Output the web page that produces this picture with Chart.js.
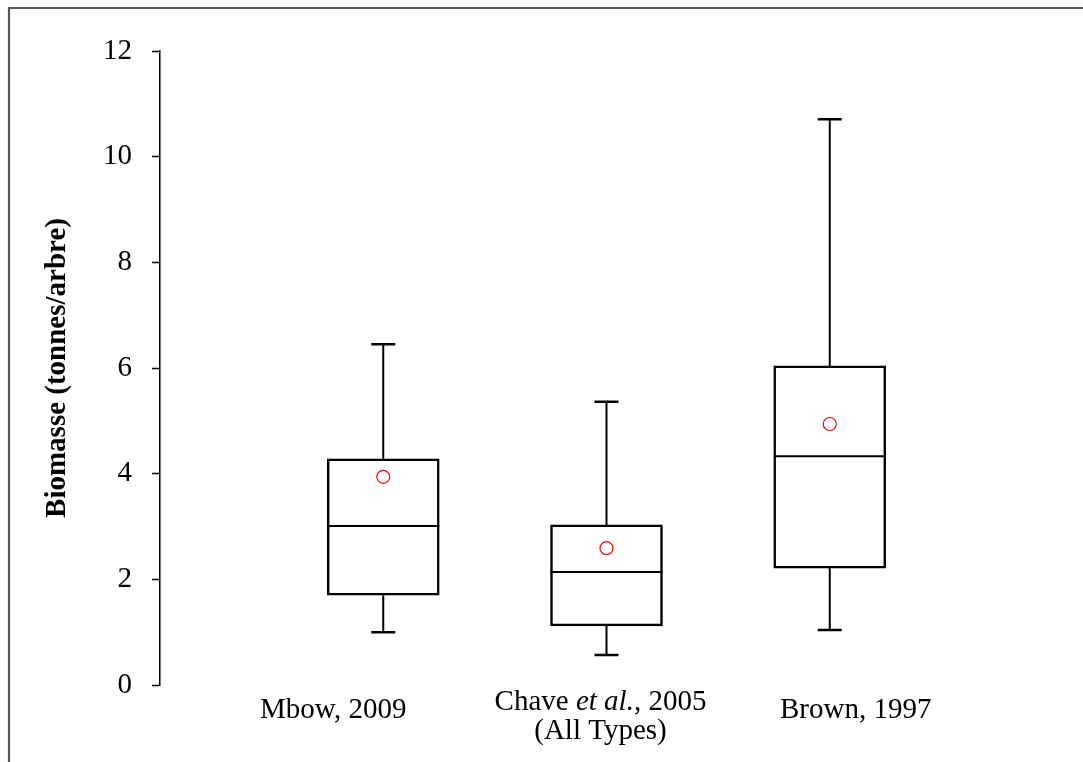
<!DOCTYPE html>
<html>
<head>
<meta charset="utf-8">
<script src="https://cdn.jsdelivr.net/npm/chart.js@4.4.1/dist/chart.umd.min.js"></script>
<style>
  html, body { margin: 0; padding: 0; background: #fff; }
  #wrap { width: 1083px; height: 762px; position: relative; }
</style>
</head>
<body>
<div id="wrap"><canvas id="c"></canvas></div>
<script>
// ---- data ----
const categories = [["Mbow, 2009"], ["Chave |et al.|, 2005", "(All Types)"], ["Brown, 1997"]];
const catPos = [1, 2, 3];
const whiskerLow = [1.00, 0.57, 1.04];
const q1 = [1.70, 1.12, 2.21];
const median = [3.01, 2.14, 4.33];
const q3 = [4.28, 3.03, 6.04];
const whiskerHigh = [6.45, 5.36, 10.71];
const mean = [3.94, 2.59, 4.94];
const yTicks = [0, 2, 4, 6, 8, 10, 12];
const yTitle = "Biomasse (tonnes/arbre)";

// ---- style constants ----
const SERIF = "'Liberation Serif', 'Times New Roman', serif";
const labelDx = [-50, -6, 26];

const boxPlugin = {
  id: 'boxparts',
  afterDatasetDraw(chart, args) {
    if (args.index !== 0) return;
    const ctx = chart.ctx, xs = chart.scales.x, ys = chart.scales.y;
    ctx.save();
    ctx.strokeStyle = '#000';
    ctx.lineCap = 'butt';
    const half = 56, cap = 12;
    catPos.forEach((p, i) => {
      const x = xs.getPixelForValue(p);
      const yMed = ys.getPixelForValue(median[i]);
      const yQ1 = ys.getPixelForValue(q1[i]);
      const yQ3 = ys.getPixelForValue(q3[i]);
      const yLo = ys.getPixelForValue(whiskerLow[i]);
      const yHi = ys.getPixelForValue(whiskerHigh[i]);
      ctx.lineWidth = 2;
      ctx.beginPath();
      ctx.moveTo(x - half, yMed); ctx.lineTo(x + half, yMed);
      ctx.moveTo(x, yQ3); ctx.lineTo(x, yHi);
      ctx.moveTo(x, yQ1); ctx.lineTo(x, yLo);
      ctx.stroke();
      ctx.lineWidth = 2.5;
      ctx.beginPath();
      ctx.moveTo(x - cap, yHi); ctx.lineTo(x + cap, yHi);
      ctx.moveTo(x - cap, yLo); ctx.lineTo(x + cap, yLo);
      ctx.stroke();
    });
    ctx.restore();
  },
  afterDraw(chart) {
    const ctx = chart.ctx, xs = chart.scales.x, ys = chart.scales.y;
    const bottom = ys.getPixelForValue(0);
    ctx.save();
    ctx.fillStyle = '#000';
    ctx.textBaseline = 'alphabetic';
    categories.forEach((lines, i) => {
      const cx = xs.getPixelForValue(catPos[i]) + labelDx[i];
      const baseY = lines.length > 1 ? [bottom + 25, bottom + 54] : [bottom + 33];
      lines.forEach((line, j) => {
        const parts = line.split('|');
        const fonts = parts.map((_, k) => (k % 2 === 1 ? 'italic ' : '') + '29px ' + SERIF);
        let total = 0;
        const widths = parts.map((t, k) => { ctx.font = fonts[k]; const w = ctx.measureText(t).width; total += w; return w; });
        let x = cx - total / 2;
        ctx.textAlign = 'left';
        parts.forEach((t, k) => { ctx.font = fonts[k]; ctx.fillText(t, x, baseY[j]); x += widths[k]; });
      });
    });
    // frame
    ctx.strokeStyle = '#575757';
    ctx.lineWidth = 2.2;
    ctx.beginPath();
    ctx.moveTo(9, 762); ctx.lineTo(9, 8); ctx.lineTo(1083, 8);
    ctx.stroke();
    ctx.restore();
  }
};

new Chart(document.getElementById('c'), {
  type: 'bar',
  data: {
    datasets: [
      {
        type: 'bar',
        data: catPos.map((p, i) => ({ x: p, y: [q1[i], q3[i]] })),
        backgroundColor: '#fff',
        borderColor: '#000',
        borderWidth: 2.5,
        borderSkipped: false,
        barThickness: 112,
        order: 2
      },
      {
        type: 'scatter',
        data: catPos.map((p, i) => ({ x: p, y: mean[i] })),
        pointStyle: 'circle',
        pointRadius: 6.5,
        pointBorderWidth: 1.2,
        pointBorderColor: '#ff0000',
        pointBackgroundColor: 'rgba(0,0,0,0)',
        showLine: false,
        order: 1
      }
    ]
  },
  options: {
    responsive: true,
    maintainAspectRatio: false,
    animation: false,
    events: [],
    layout: { padding: { left: 0, top: 51, right: 30, bottom: 77 } },
    plugins: { legend: { display: false }, tooltip: { enabled: false } },
    scales: {
      x: { type: 'linear', min: 0, max: 4, offset: false, grid: { offset: false }, display: false },
      y: {
        min: 0, max: 12,
        afterFit(s) { s.width = 160; },
        afterBuildTicks(s) { s.ticks = yTicks.map(v => ({ value: v })); },
        ticks: { color: '#000', padding: 20, font: { family: SERIF, size: 29 } },
        grid: { drawOnChartArea: false, drawTicks: true, tickLength: 8, tickWidth: 1.5, tickColor: '#000' },
        border: { display: true, color: '#000', width: 1.5 },
        title: {
          display: true, text: yTitle, color: '#000', padding: { top: 40, bottom: 0 },
          font: { family: SERIF, size: 29, weight: 'bold' }
        }
      }
    }
  },
  plugins: [boxPlugin]
});
</script>
</body>
</html>
